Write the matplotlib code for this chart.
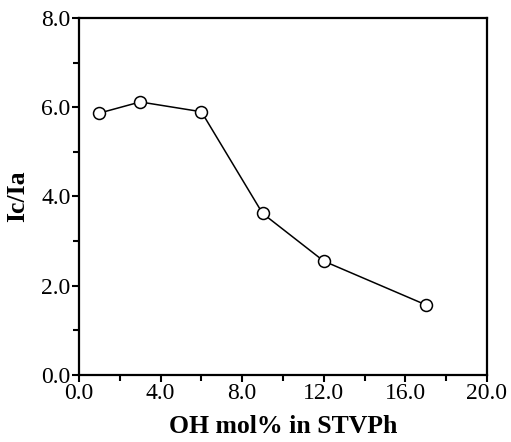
import matplotlib.pyplot as plt
from matplotlib.ticker import MultipleLocator, FormatStrFormatter

# data
oh_mol = [1, 3, 6, 9, 12, 17]
ic_ia = [5.87, 6.12, 5.90, 3.62, 2.55, 1.57]

plt.rcParams['font.family'] = ['Liberation Serif', 'DejaVu Serif']

fig = plt.figure(figsize=(5.11, 4.42), dpi=100)
ax = fig.add_axes([0.1546, 0.152, 0.7984, 0.807])

ax.plot(oh_mol, ic_ia, color='black', lw=1.1, marker='o', ms=8.6,
        mfc='white', mec='black', mew=1.1)

ax.set_xlim(0, 20)
ax.set_ylim(0, 8)
ax.xaxis.set_major_locator(MultipleLocator(4))
ax.xaxis.set_minor_locator(MultipleLocator(2))
ax.yaxis.set_major_locator(MultipleLocator(2))
ax.yaxis.set_minor_locator(MultipleLocator(1))
ax.xaxis.set_major_formatter(FormatStrFormatter('%.1f'))
ax.yaxis.set_major_formatter(FormatStrFormatter('%.1f'))

ax.tick_params(which='both', direction='out', width=1.5, top=False, right=False)
ax.tick_params(which='major', length=5, labelsize=17, pad=1)
ax.tick_params(which='minor', length=4)
for s in ax.spines.values():
    s.set_linewidth(1.6)

ax.set_xlabel('OH mol% in STVPh', fontsize=18.5, fontweight='bold', labelpad=8)
ax.set_ylabel('Ic/Ia', fontsize=18.5, fontweight='bold', labelpad=9)

fig.savefig('out.png', dpi=100)
